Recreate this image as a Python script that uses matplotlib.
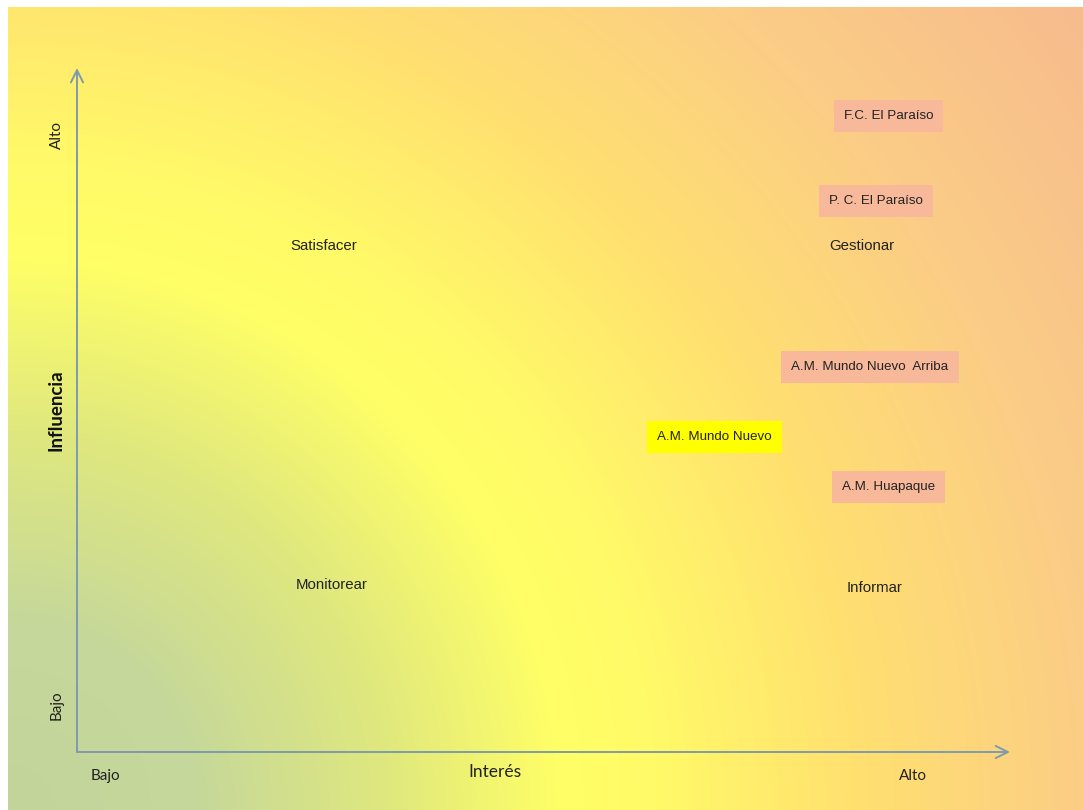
import numpy as np
import matplotlib.pyplot as plt
from matplotlib.colors import LinearSegmentedColormap

# stakeholder map: interest (x) vs influence (y), 0-10 scale
actors = ["F.C. El Paraíso", "P. C. El Paraíso", "A.M. Mundo Nuevo  Arriba",
          "A.M. Mundo Nuevo", "A.M. Huapaque"]
interes = [8.70, 8.56, 8.50, 6.83, 8.70]
influencia = [9.30, 8.06, 5.63, 4.61, 3.87]
box_colors = ["#f7b99a", "#f7b99a", "#f7b99a", "#ffff00", "#f7b99a"]

quadrants = ["Satisfacer", "Gestionar", "Monitorear", "Informar"]
quad_x = [2.64, 8.41, 2.73, 8.55]
quad_y = [7.40, 7.40, 2.44, 2.40]

W, H = 1083, 810
fig = plt.figure(figsize=(W / 100, H / 100), dpi=100)
fig.patch.set_facecolor("white")

# background radial gradient from bottom-left corner
bg = fig.add_axes([8 / W, 0, (W - 8) / W, (H - 7) / H])
bg.set_axis_off()
ny, nx = H - 7, W - 8
yy, xx = np.mgrid[0:ny, 0:nx]
r = np.sqrt(xx ** 2 + (ny - yy) ** 2) / 1350.0
cmap = LinearSegmentedColormap.from_list("bg", [
    (0.0, "#c2d49b"), (0.14, "#c6d89a"), (0.28, "#dfe87e"),
    (0.41, "#ffff66"), (0.48, "#fffa68"), (0.63, "#ffe070"),
    (0.8, "#fbcd86"), (1.0, "#f7bb8e")])
bg.imshow(np.clip(r, 0, 1), cmap=cmap, vmin=0, vmax=1, aspect="auto",
          interpolation="bilinear")

ax = fig.add_axes([77 / W, 58 / H, (1010 - 77) / W, (752 - 68) / H])
ax.set_xlim(0, 10)
ax.set_ylim(0, 10)
ax.patch.set_alpha(0)
ax.set_axis_off()

arrow_kw = dict(arrowstyle="->", color="#7f9bab", lw=1.4, mutation_scale=22,
                shrinkA=0, shrinkB=0)
ax.annotate("", xy=(10, 0), xytext=(0, 0), arrowprops=arrow_kw, annotation_clip=False)
ax.annotate("", xy=(0, 10), xytext=(0, 0), arrowprops=arrow_kw, annotation_clip=False)

lbl = dict(fontsize=11, color="#222222", family="Lato")
ax.text(0.30, -0.35, "Bajo", ha="center", va="center", **lbl)
ax.text(8.96, -0.35, "Alto", ha="center", va="center", **lbl)
ax.text(4.48, -0.29, "Interés", ha="center", va="center", fontsize=12.5,
        color="#222222", family="Lato")
ax.text(-0.22, 9.02, "Alto", ha="center", va="center", rotation=90, **lbl)
ax.text(-0.22, 0.69, "Bajo", ha="center", va="center", rotation=90, **lbl)
ax.text(-0.22, 5.0, "Influencia", ha="center", va="center", rotation=90,
        fontsize=13.5, color="#111111", family="Lato", fontweight="bold")

for name, x, y in zip(quadrants, quad_x, quad_y):
    ax.text(x, y, name, ha="center", va="center", fontsize=10.8,
            family="Liberation Sans", color="#222222")

for name, x, y, c in zip(actors, interes, influencia, box_colors):
    ax.text(x, y, name, ha="center", va="center", fontsize=9.6,
            family="Liberation Sans", color="#222222",
            bbox=dict(boxstyle="square,pad=0.75", fc=c, ec="none"))

fig.savefig("out.png", dpi=100)
